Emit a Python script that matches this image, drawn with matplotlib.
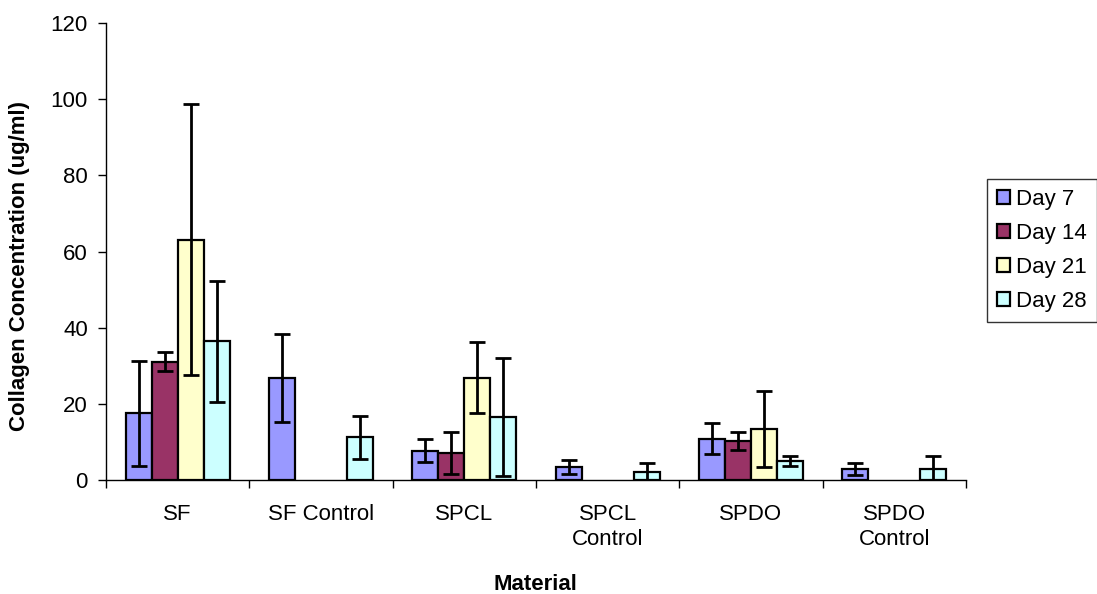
import numpy as np
import matplotlib.pyplot as plt

plt.rcParams['font.family'] = ['Liberation Sans', 'DejaVu Sans']

# === Datos ===
materials = ["SF", "SF Control", "SPCL", "SPCL\nControl", "SPDO", "SPDO\nControl"]
days = ["Day 7", "Day 14", "Day 21", "Day 28"]

day7 = [17.5, 26.8, 7.7, 3.5, 10.8, 2.8]
day14 = [31.1, np.nan, 7.1, np.nan, 10.3, np.nan]
day21 = [63.1, np.nan, 26.9, np.nan, 13.4, np.nan]
day28 = [36.4, 11.2, 16.5, 2.1, 5.1, 3.0]

err7 = [13.8, 11.5, 3.1, 1.8, 4.1, 1.6]
err14 = [2.5, np.nan, 5.4, np.nan, 2.3, np.nan]
err21 = [35.6, np.nan, 9.4, np.nan, 10.1, np.nan]
err28 = [15.9, 5.6, 15.5, 2.4, 1.3, 3.3]

colors = ["#9999FF", "#993366", "#FFFFCC", "#CCFFFF"]
fs = 16

# === Figura ===
fig = plt.figure(figsize=(10.97, 5.94), dpi=100)
ax = fig.add_axes([106 / 1097, 1 - 480 / 594, 860 / 1097, 457 / 594])

x = np.arange(len(materials))
width = 0.181
series = [(day7, err7), (day14, err14), (day21, err21), (day28, err28)]
for i, (vals, errs) in enumerate(series):
    pos = x + (i - 1.5) * width
    ax.bar(pos, vals, width, color=colors[i], edgecolor="black", linewidth=1.6,
           label=days[i], zorder=2)
    ax.errorbar(pos, vals, yerr=errs, fmt="none", ecolor="black", elinewidth=2.0,
                capsize=5.5, capthick=2.0, zorder=3)

ax.set_xlim(-0.5, len(materials) - 0.5)
ax.set_ylim(0, 120)
ax.set_yticks(range(0, 121, 20))
ax.set_xticks(x)
ax.set_xticklabels(materials, fontsize=fs, linespacing=1.3)
ax.set_xticks(np.arange(-0.5, len(materials)), minor=True)
ax.tick_params(axis="x", which="major", length=0, pad=17)
ax.tick_params(axis="x", which="minor", length=6, width=1, direction="out")
ax.tick_params(axis="y", length=6, width=1, direction="out", labelsize=fs, pad=7)

for s in ["top", "right"]:
    ax.spines[s].set_visible(False)
ax.spines["left"].set_linewidth(1)
ax.spines["bottom"].set_linewidth(1)

fig.text(20 / 1097, 1 - 266 / 594, "Collagen Concentration (ug/ml)", fontsize=fs,
         fontweight="bold", rotation=90, ha="center", va="center")
fig.text(535 / 1097, 1 - 585 / 594, "Material", fontsize=fs, fontweight="bold",
         ha="center", va="center")

leg = fig.legend(loc="upper left", bbox_to_anchor=(987 / 1097, 1 - 179 / 594),
                 fontsize=fs, frameon=True, fancybox=False, edgecolor="black",
                 handlelength=0.6, handleheight=0.6, handletextpad=0.25,
                 borderpad=0.45, labelspacing=0.58, borderaxespad=0)
leg.get_frame().set_linewidth(1)

fig.savefig("out.png", dpi=100)
